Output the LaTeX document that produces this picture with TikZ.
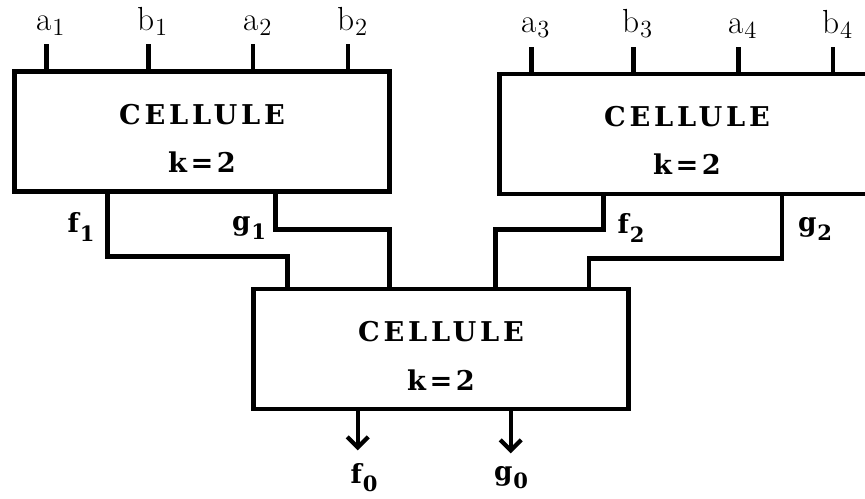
\documentclass[tikz,border=0pt]{standalone}
\usepackage{fontspec}
\usepackage{tikz}
\usetikzlibrary{arrows.meta}
\newfontfamily\cellfont{DejaVu Serif}[LetterSpace=14]
\newfontfamily\wirefont{DejaVu Serif}
\newcommand{\lowidx}[1]{\kern0.5pt\raisebox{-0.35ex}{\fontsize{14}{14}\selectfont #1}}
\newcommand{\boldidx}[1]{\kern0.5pt\raisebox{-0.6ex}{\fontsize{12}{12}\selectfont #1}}
\tikzset{ cell_box/.style = {rectangle, draw, line width=2.6pt, minimum width=7.5cm, minimum height=2.4cm, inner sep=0pt} }
\tikzset{ cell_txt/.style = {anchor=base, inner sep=0pt, font=\cellfont\bfseries\fontsize{15.5}{18}\selectfont} }
\tikzset{ wire/.style = {line width=2.6pt} }
\tikzset{ pin_lbl/.style = {anchor=south, inner sep=0pt, font=\fontsize{19}{21}\selectfont} }
\tikzset{ out_lbl/.style = {inner sep=0pt, font=\wirefont\bfseries\fontsize{15}{17}\selectfont} }
\tikzset{ out_arrow/.style = {line width=2.4pt, -{Straight Barb[length=6pt,width=12pt]}} }

\begin{document}
\begin{tikzpicture}[x=0.02cm, y=-0.02cm]
        \useasboundingbox (0,0) rectangle (865,498);
        \clip (0,0) rectangle (865,498);
        \node[cell_box] (L) at (202,131.5) {};
        \node[cell_box] (R) at (687,134) {};
        \node[cell_box] (B) at (441,349) {};
        \foreach \c in {L,R,B} {
                \node[cell_txt] (\c-name) at ([yshift=0.15cm]\c.center) {CELLULE};
                \node[cell_txt] (\c-k) at ([yshift=-0.82cm]\c.center) {k\kern2pt=\kern2pt2};
        }
        \foreach \dx/\lbl [count=\i] in {0.68/a\lowidx{1}, 2.72/b\lowidx{1}, 4.82/a\lowidx{2}, 6.72/b\lowidx{2}} {
                \coordinate (L-in\i) at ([xshift=\dx cm]L.north west);
                \draw[wire] (L-in\i) -- ++(0,0.5cm) node[pin_lbl, xshift=0.08cm, yshift=0.12cm] (L-lbl\i) {\lbl};
        }
        \foreach \dx/\lbl [count=\i] in {0.68/a\lowidx{3}, 2.72/b\lowidx{3}, 4.82/a\lowidx{4}, 6.72/b\lowidx{4}} {
                \coordinate (R-in\i) at ([xshift=\dx cm]R.north west);
                \draw[wire] (R-in\i) -- ++(0,0.5cm) node[pin_lbl, xshift=0.08cm, yshift=0.12cm] (R-lbl\i) {\lbl};
        }
        \foreach \dx [count=\i] in {0.73, 2.76, 4.89, 6.76} {
                \coordinate (B-in\i) at ([xshift=\dx cm]B.north west);
        }
        \coordinate (L-f) at ([xshift=1.9cm]L.south west);
        \coordinate (L-g) at ([xshift=5.27cm]L.south west);
        \coordinate (R-f) at ([xshift=2.12cm]R.south west);
        \coordinate (R-g) at ([xshift=5.7cm]R.south west);
        \draw[wire] (L-f) -- ++(0,-1.26cm) -| (B-in1);
        \draw[wire] (L-g) -- ++(0,-0.72cm) -| (B-in2);
        \draw[wire] (R-f) -- ++(0,-0.67cm) -| (B-in3);
        \draw[wire] (R-g) -- ++(0,-1.25cm) -| (B-in4);
        \node[out_lbl] (f1) at (81,227) {f\boldidx{1}};
        \node[out_lbl] (g1) at (249,228) {g\boldidx{1}};
        \node[out_lbl] (f2) at (631,228) {f\boldidx{2}};
        \node[out_lbl] (g2) at (815,229) {g\boldidx{2}};
        \node[out_lbl] (f0) at (364,478) {f\boldidx{0}};
        \node[out_lbl] (g0) at (511,478) {g\boldidx{0}};
        \coordinate (B-f) at ([xshift=2.13cm]B.south west);
        \coordinate (B-g) at ([xshift=5.19cm]B.south west);
        \draw[out_arrow, shorten >=0.26cm] (B-f) -- (B-f |- f0.north);
        \draw[out_arrow, shorten >=0.26cm] (B-g) -- (B-g |- g0.north);
\end{tikzpicture}
\end{document}
